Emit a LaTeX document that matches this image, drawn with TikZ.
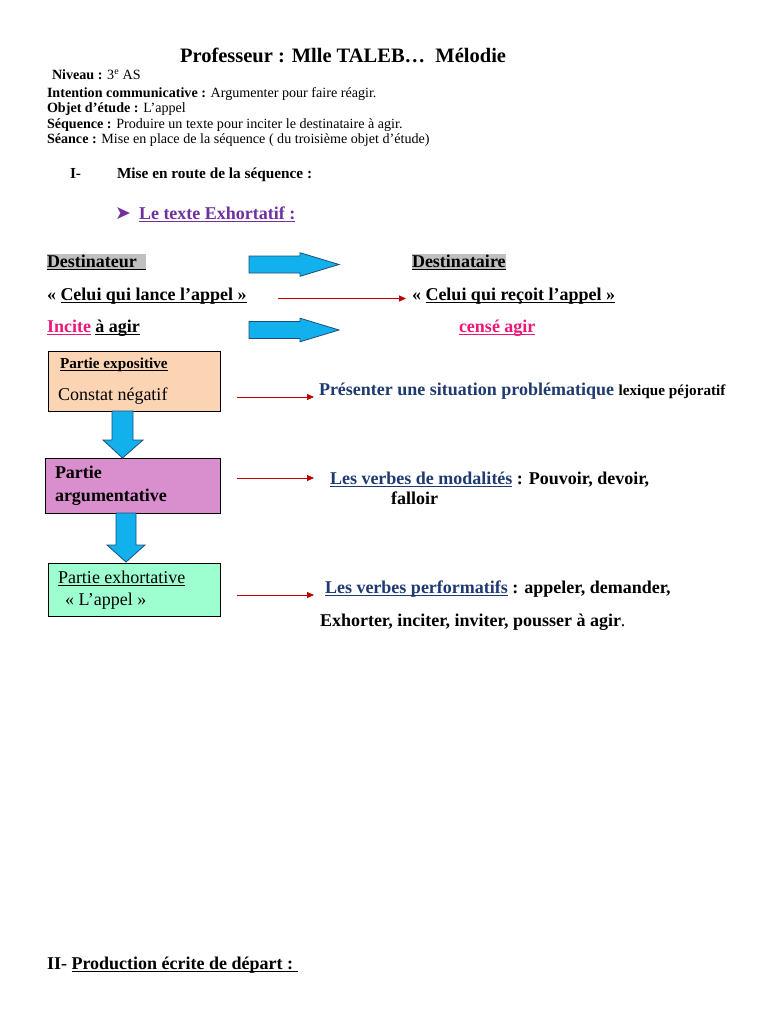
\documentclass[tikz,border=0pt]{standalone}
\usepackage{fontspec}
\setmainfont{Liberation Serif}
\newfontfamily\symfont{DejaVu Sans}
\usetikzlibrary{arrows.meta,calc}
\definecolor{purp}{HTML}{7030A0}
\definecolor{pinkc}{HTML}{EE1679}
\definecolor{navy}{HTML}{1F3A70}
\definecolor{cyanb}{HTML}{12B0EC}
\definecolor{cyanl}{HTML}{1F4E79}
\definecolor{orafill}{HTML}{FBD4B4}
\definecolor{purfill}{HTML}{D98FCE}
\definecolor{grnfill}{HTML}{9DFFD0}
\definecolor{redc}{HTML}{C00000}
\definecolor{hlgray}{HTML}{C0C0C0}
\newcommand\myul[1]{\setbox0\hbox{#1}\rlap{\rule[-0.14em]{\wd0}{0.065em}}\box0}
\newcommand\myhl[1]{{\setlength\fboxsep{0pt}\colorbox{hlgray}{\rule[-0.12em]{0pt}{0.88em}#1}}}
\newcommand\fTitle{\fontsize{20.5}{24}\selectfont\bfseries}
\newcommand\fHead{\fontsize{14.1}{16}\selectfont}
\newcommand\fSec{\fontsize{15.3}{18}\selectfont\bfseries}
\newcommand\fBig{\fontsize{18}{21}\selectfont}
\newcommand\fMid{\fontsize{15.2}{18}\selectfont}
\begin{document}
\begin{tikzpicture}[x=1pt,y=-1pt,
  txt/.style={anchor=base west,inner sep=0pt,outer sep=0pt},
  box/.style={draw=black,line width=0.9pt,anchor=north west,inner sep=0pt},
  blk/.style={draw=cyanl,fill=cyanb,line width=0.8pt,line join=miter},
  redarr/.style={draw=redc,line width=0.8pt,-{Triangle[length=7pt,width=6pt]}},
  pics/hblk/.style={code={\draw[blk] (0,-8.5) -- (51,-8.5) -- (51,-11.8) -- (90,0) -- (51,11.8) -- (51,8.5) -- (0,8.5) -- cycle;}}
]
\path[use as bounding box,fill=white] (0,0) rectangle (768,1024);

% header
\node[txt,font=\fTitle] (title) at (180,62.5) {Professeur : Mlle TALEB…\ \ Mélodie};
\node[txt,font=\fHead] (niv) at (52,79.5) {\textbf{Niveau :} 3\textsuperscript{e} AS};
\node[txt,font=\fHead] (int) at (47,97.5) {\textbf{Intention communicative :} Argumenter pour faire réagir.};
\node[txt,font=\fHead] (obj) at (47,113) {\textbf{Objet d’étude :} L’appel};
\node[txt,font=\fHead] (seq) at (47,128.5) {\textbf{Séquence :} Produire un texte pour inciter le destinataire à agir.};
\node[txt,font=\fHead] (sea) at (47,144) {\textbf{Séance :} Mise en place de la séquence ( du troisième objet d’étude)};

\node[txt,font=\fSec] (i) at (70,178.5) {I-};
\node[txt,font=\fSec] (mise) at (117,178.5) {Mise en route de la séquence :};

\node[txt,font=\symfont\fontsize{19}{21}\selectfont,text=purp] (puce) at (115,219) {➤};
\node[txt,font=\fBig\bfseries,text=purp] (exh) at (139,219.5) {\myul{Le texte Exhortatif :}};

% destinateur / destinataire
\node[txt,font=\fBig\bfseries] (dtr) at (47,267.5) {\myhl{\myul{Destinateur\ \ }}};
\node[txt,font=\fBig\bfseries] (dta) at (412,267.5) {\myhl{\myul{Destinataire}}};
\pic at (249,264.5) {hblk};

\node[txt,font=\fBig\bfseries] (lance) at (47,300.5) {« \myul{Celui qui lance l’appel »}};
\node[txt,font=\fBig\bfseries] (recoit) at (412,300.5) {« \myul{Celui qui reçoit l’appel »}};
\coordinate (r0s) at (278,298.5);
\coordinate (r0e) at (406,298.5);
\draw[redarr] (r0s) -- (r0e);

\node[txt,font=\fBig\bfseries] (incite) at (47,332.5) {{\color{pinkc}\myul{Incite}} \myul{à agir}};
\node[txt,font=\fBig\bfseries,text=pinkc] (cense) at (459,332.5) {\myul{censé agir}};
\pic at (249,330) {hblk};

% boxes
\node[box,fill=orafill,minimum width=172,minimum height=60] (ora) at (48,351) {};
\node[box,fill=purfill,minimum width=175,minimum height=55] (pur) at (45,458) {};
\node[box,fill=grnfill,minimum width=172,minimum height=53] (grn) at (48,563) {};

\node[txt,font=\fMid\bfseries] (pexp) at (60,368.5) {\myul{Partie expositive}};
\node[txt,font=\fBig] (const) at (58,400.5) {Constat négatif};

\node[txt,font=\fBig\bfseries] (parg1) at (55,478.5) {Partie};
\node[txt,font=\fBig\bfseries] (parg2) at (55,501.5) {argumentative};

\node[txt,font=\fBig] (pexh) at (58,583.5) {\myul{Partie exhortative}};
\node[txt,font=\fBig] (lappel) at (65,605.5) {« L’appel »};

% vertical block arrows
\draw[blk] (112,411) -- (133,411) -- (133,440) -- (143,440) -- (122.5,458) -- (103,440) -- (112,440) -- cycle;
\draw[blk] (116,513) -- (136,513) -- (136,545) -- (145,545) -- (126,562) -- (107,545) -- (116,545) -- cycle;

% red arrows
\coordinate (r1s) at (237,397);  \coordinate (r1e) at (314,397);
\coordinate (r2s) at (237,478);  \coordinate (r2e) at (314,478);
\coordinate (r3s) at (237,595);  \coordinate (r3e) at (314,595);
\draw[redarr] (r1s) -- (r1e);
\draw[redarr] (r2s) -- (r2e);
\draw[redarr] (r3s) -- (r3e);

\node[txt,font=\fBig\bfseries] (pres) at (319,395.5) {{\color{navy}Présenter une situation problématique} {\fMid lexique péjoratif}};
\node[txt,font=\fBig\bfseries] (modal) at (330,484.5) {{\color{navy}\myul{Les verbes de modalités}} : Pouvoir, devoir,};
\node[txt,font=\fBig\bfseries] (fall) at (391,504.5) {falloir};
\node[txt,font=\fBig\bfseries] (perf) at (325,593.5) {{\color{navy}\myul{Les verbes performatifs}} : appeler, demander,};
\node[txt,font=\fBig\bfseries] (exhl) at (320,626.5) {Exhorter, inciter, inviter, pousser à agir\textmd{.}};

\node[txt,font=\fBig\bfseries] (ii) at (47,969.5) {II- \myul{Production écrite de départ :\ }};
\end{tikzpicture}
\end{document}
